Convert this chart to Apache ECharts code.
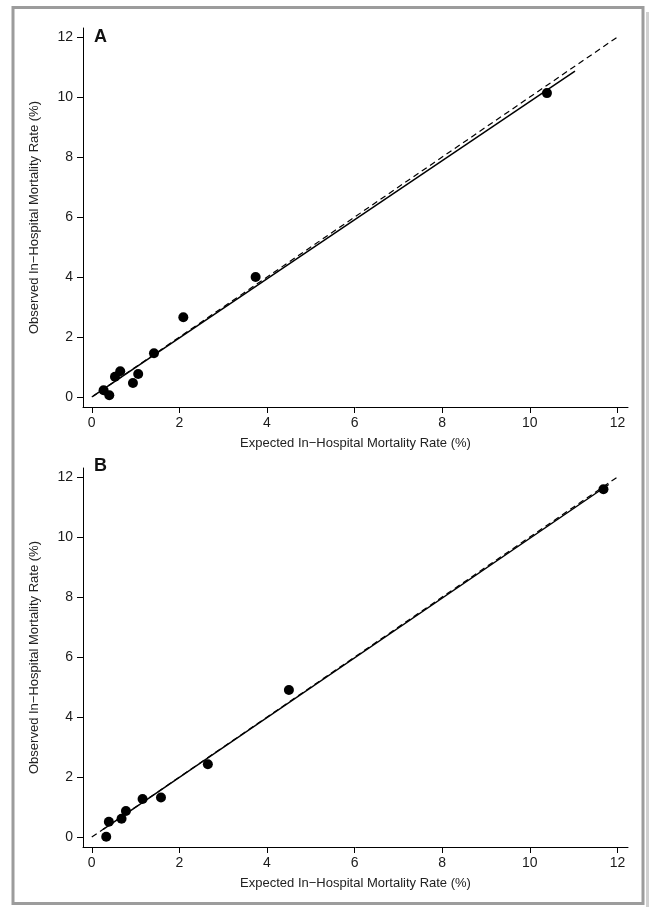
<html>
<head>
<meta charset="utf-8">
<script src="https://cdn.jsdelivr.net/npm/echarts@6/dist/echarts.min.js"></script>
<style>
  body { margin: 0; background: #fff; }
  #main { width: 649px; height: 907px; }
</style>
</head>
<body>
<div id="main"></div>
<script type="text/javascript">
// panel A: expected vs observed mortality (%)
var expectedA = [0.27, 0.40, 0.53, 0.65, 0.94, 1.06, 1.42, 2.09, 3.74, 10.39];
var observedA = [0.23, 0.06, 0.68, 0.86, 0.47, 0.77, 1.46, 2.66, 4.00, 10.13];
var fitA = [[0.03, 0.03], [11.03, 10.86]];

// panel B
var expectedB = [0.33, 0.39, 0.68, 0.78, 1.16, 1.58, 2.65, 4.50, 11.68];
var observedB = [0.01, 0.51, 0.61, 0.87, 1.27, 1.32, 2.43, 4.90, 11.59];
var fitB = [[0.26, 0.26], [11.80, 11.75]];

// y = x reference line
var identityLine = [[0, 0], [12, 12]];
var tickValues = [0, 2, 4, 6, 8, 10, 12];

var xTitle = 'Expected In\u2212Hospital Mortality Rate (%)';
var yTitle = 'Observed In\u2212Hospital Mortality Rate (%)';
var font = "'Liberation Sans', Arial, Helvetica, sans-serif";

function pairs(xs, ys) {
    var out = [];
    for (var i = 0; i < xs.length; i++) {
        out.push([xs[i], ys[i]]);
    }
    return out;
}

function xAxisFor(idx) {
    return {
        type: 'value', gridIndex: idx, min: -0.2, max: 12.24,
        name: xTitle, nameLocation: 'middle', nameGap: 30, nameMoveOverlap: false,
        nameTextStyle: { color: '#222', fontSize: 13, fontFamily: font },
        axisLine: { onZero: false, lineStyle: { color: '#000', width: 1 } },
        axisTick: { length: 6, customValues: tickValues, lineStyle: { color: '#000' } },
        axisLabel: { customValues: tickValues, margin: 9, color: '#1a1a1a', fontSize: 14, fontFamily: font },
        splitLine: { show: false }
    };
}
function yAxisFor(idx) {
    return {
        type: 'value', gridIndex: idx, min: -0.33, max: 12.3,
        name: yTitle, nameLocation: 'middle', nameGap: 42, nameRotate: 90, nameMoveOverlap: false,
        nameTextStyle: { color: '#222', fontSize: 13, fontFamily: font },
        axisLine: { show: true, onZero: false, lineStyle: { color: '#000', width: 1 } },
        axisTick: { show: true, length: 6, customValues: tickValues, lineStyle: { color: '#000' } },
        axisLabel: { customValues: tickValues, margin: 10, color: '#1a1a1a', fontSize: 14, fontFamily: font },
        splitLine: { show: false }
    };
}
function seriesFor(idx, pts, fit) {
    return [
        {
            type: 'line', xAxisIndex: idx, yAxisIndex: idx, data: identityLine,
            symbol: 'none', silent: true,
            lineStyle: { color: '#000', width: 1.2, type: [6, 4] }
        },
        {
            type: 'line', xAxisIndex: idx, yAxisIndex: idx, data: fit,
            symbol: 'none', silent: true,
            lineStyle: { color: '#000', width: 1.5 }
        },
        {
            type: 'scatter', xAxisIndex: idx, yAxisIndex: idx, data: pts,
            symbol: 'circle', symbolSize: 10,
            itemStyle: { color: '#000', opacity: 1 }
        }
    ];
}

var myChart = echarts.init(document.getElementById('main'));
var option = {
    animation: false,
    backgroundColor: '#fff',
    grid: [
        { left: 83, top: 28, width: 545, height: 379 },
        { left: 83, top: 468, width: 545, height: 379 }
    ],
    xAxis: [xAxisFor(0), xAxisFor(1)],
    yAxis: [yAxisFor(0), yAxisFor(1)],
    series: seriesFor(0, pairs(expectedA, observedA), fitA)
        .concat(seriesFor(1, pairs(expectedB, observedB), fitB)),
    graphic: [
        {   // outer frame
            type: 'rect', silent: true,
            shape: { x: 13, y: 7.5, width: 630, height: 896 },
            style: { fill: 'none', stroke: '#9c9c9c', lineWidth: 3 }
        },
        {   // right edge shadow
            type: 'rect', silent: true,
            shape: { x: 646, y: 12, width: 3, height: 895 },
            style: { fill: '#d0d0d0' }
        },
        {
            type: 'text', left: 94, top: 28,
            style: { text: 'A', font: 'bold 18px ' + font, fill: '#111' }
        },
        {
            type: 'text', left: 94, top: 457,
            style: { text: 'B', font: 'bold 18px ' + font, fill: '#111' }
        }
    ]
};
myChart.setOption(option);
</script>
</body>
</html>
